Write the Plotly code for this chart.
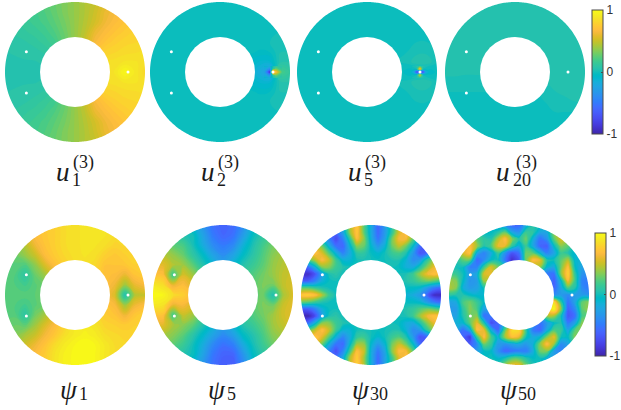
import numpy as np
import plotly.graph_objects as go

WIDTH, HEIGHT = 621, 410

# Sampled field values, percent of full scale. Rows run top to bottom, columns left to right.
GRID = [-1 + i / 7 for i in range(15)]
FINE_GRID = [-1 + i / 10 for i in range(21)]

U1 = [
    [14, 16, 18, 20, 24, 28, 33, 38, 44, 49, 56, 62, 66, 70, 72],
    [12, 14, 16, 18, 22, 27, 33, 38, 44, 51, 60, 65, 69, 72, 75],
    [10, 12, 14, 17, 20, 25, 31, 38, 45, 53, 62, 68, 72, 76, 78],
    [9, 10, 12, 14, 17, 22, 29, 38, 47, 60, 67, 72, 76, 79, 80],
    [8, 8, 9, 11, 14, 18, 27, 38, 51, 65, 72, 77, 80, 81, 82],
    [6, 7, 7, 8, 10, 14, 22, 38, 60, 72, 79, 81, 83, 84, 85],
    [5, 5, 6, 6, 7, 8, 14, 38, 72, 81, 84, 86, 88, 88, 86],
    [5, 5, 5, 5, 5, 5, 5, 5, 80, 82, 84, 88, 98, 90, 82],
    [5, 5, 6, 6, 7, 8, 14, 38, 72, 81, 84, 86, 88, 88, 86],
    [6, 7, 7, 8, 10, 14, 22, 38, 60, 72, 79, 81, 83, 84, 85],
    [8, 8, 9, 11, 14, 18, 27, 38, 51, 65, 72, 77, 80, 81, 82],
    [9, 10, 12, 14, 17, 22, 29, 38, 47, 60, 67, 72, 76, 79, 80],
    [10, 12, 14, 17, 20, 25, 31, 38, 45, 53, 62, 68, 72, 76, 78],
    [12, 14, 16, 18, 22, 27, 33, 38, 44, 51, 60, 65, 69, 72, 75],
    [14, 16, 18, 20, 24, 28, 33, 38, 44, 49, 56, 62, 66, 70, 72],
]
U2 = [
    [0] * 15, [0] * 15, [0] * 15, [0] * 15,
    [0, 0, 0, 0, 0, 0, 0, 0, 0, 0, 0, 0, 0, 2, 2],
    [0, 0, 0, 0, 0, 0, 0, 0, 0, 0, -2, -4, -3, 3, 3],
    [0, 0, 0, 0, 0, 0, 0, 0, 0, 0, -6, -10, -10, 5, 6],
    [0, 0, 0, 0, 0, 0, 0, 0, 0, 0, -8, -18, -30, 20, 12],
    [0, 0, 0, 0, 0, 0, 0, 0, 0, 0, -6, -10, -10, 5, 6],
    [0, 0, 0, 0, 0, 0, 0, 0, 0, 0, -2, -4, -3, 3, 3],
    [0, 0, 0, 0, 0, 0, 0, 0, 0, 0, 0, 0, 0, 2, 2],
    [0] * 15, [0] * 15, [0] * 15, [0] * 15,
]
U5 = [
    [0] * 15, [0] * 15, [0] * 15, [0] * 15, [0] * 15,
    [0, 0, 0, 0, 0, 0, 0, 0, 0, 0, 0, 0, 2, 2, 0],
    [0, 0, 0, 0, 0, 0, 0, 0, 0, 0, 0, 1, 6, 6, 0],
    [0, 0, 0, 0, 0, 0, 0, 0, 0, 0, 0, -5, -8, -8, -2],
    [0, 0, 0, 0, 0, 0, 0, 0, 0, 0, 0, 1, 6, 6, 0],
    [0, 0, 0, 0, 0, 0, 0, 0, 0, 0, 0, 0, 2, 2, 0],
    [0] * 15, [0] * 15, [0] * 15, [0] * 15, [0] * 15,
]
U20 = [
    [5] * 15, [5] * 15, [5] * 15, [5] * 15, [5] * 15, [5] * 15, [5] * 15,
    [4, 4, 4, 4, 4, 4, 4, 4, 4, 4, 4, 4, 4, 5, 5],
    [2, 2, 1, 1, 1, 1, 1, 1, 1, 1, 3, 4, 5, 5, 5],
    [0, 0, 0, 0, 0, 0, 0, 0, 0, 0, 1, 3, 4, 5, 5],
    [0, 0, 0, 0, 0, 0, 0, 0, 0, 0, 0, 1, 2, 3, 3],
    [0, 0, 0, 0, 0, 0, 0, 0, 0, 0, 0, 0, 0, 0, 0],
    [0] * 15, [0] * 15, [0] * 15,
]
PSI1 = [
    [30, 45, 60, 70, 74, 78, 84, 87, 88, 89, 88, 85, 82, 80, 78],
    [28, 40, 55, 68, 74, 78, 84, 87, 88, 89, 88, 84, 82, 80, 78],
    [28, 33, 45, 62, 72, 78, 84, 87, 88, 88, 85, 80, 82, 80, 78],
    [26, 28, 38, 50, 68, 76, 82, 86, 88, 86, 78, 74, 78, 80, 78],
    [24, 24, 22, 36, 55, 70, 78, 84, 86, 82, 72, 72, 74, 78, 78],
    [22, 22, 10, 28, 40, 55, 70, 80, 82, 78, 70, 68, 60, 72, 76],
    [22, 22, 18, 24, 30, 40, 50, 60, 65, 68, 70, 62, 40, 60, 66],
    [22, 22, 24, 25, 30, 40, 50, 60, 62, 66, 68, 55, 4, 45, 50],
    [22, 22, 18, 24, 30, 40, 50, 60, 68, 70, 72, 66, 40, 62, 68],
    [24, 24, 10, 30, 42, 55, 70, 80, 85, 82, 76, 72, 62, 74, 78],
    [26, 28, 25, 40, 55, 68, 80, 90, 92, 88, 80, 78, 76, 78, 80],
    [28, 33, 42, 50, 64, 74, 86, 92, 95, 92, 85, 82, 80, 80, 80],
    [30, 40, 52, 62, 72, 84, 92, 97, 100, 97, 90, 84, 82, 80, 80],
    [32, 45, 60, 68, 76, 88, 95, 98, 100, 97, 90, 84, 82, 80, 80],
    [32, 45, 60, 68, 76, 88, 95, 98, 100, 97, 90, 84, 82, 80, 80],
]
PSI5 = [
    [15, 10, 5, -5, -15, -35, -55, -62, -58, -40, -10, 5, 15, 25, 35],
    [20, 22, 12, 5, 0, -25, -50, -60, -55, -30, -3, 10, 20, 28, 35],
    [28, 32, 25, 20, 2, -18, -40, -50, -42, -15, 3, 18, 30, 35, 40],
    [42, 45, 38, 28, 10, -5, -25, -38, -25, -5, 8, 22, 35, 42, 48],
    [55, 58, 45, 40, 25, 5, -10, -25, -10, 5, 15, 25, 38, 45, 50],
    [70, 70, 15, 55, 40, 20, 0, -10, 0, 15, 22, 30, 38, 48, 52],
    [90, 85, 60, 68, 55, 30, 10, 0, 5, 18, 25, 32, 30, 48, 55],
    [100, 97, 85, 78, 65, 40, 15, 0, 5, 18, 25, 30, 3, 42, 55],
    [90, 88, 60, 65, 55, 30, 10, 0, 5, 18, 25, 32, 30, 50, 58],
    [70, 72, 18, 50, 40, 20, 0, -10, 0, 15, 22, 30, 40, 52, 58],
    [55, 58, 42, 35, 25, 5, -10, -25, -10, 5, 15, 25, 40, 48, 55],
    [42, 42, 35, 25, 8, -8, -25, -40, -28, -5, 5, 20, 35, 42, 50],
    [28, 32, 25, 15, 0, -18, -42, -55, -48, -20, 0, 15, 28, 35, 42],
    [20, 22, 12, 5, -2, -25, -52, -62, -62, -35, -5, 8, 18, 28, 35],
    [15, 10, 5, -5, -15, -35, -55, -65, -65, -42, -12, 3, 15, 25, 35],
]
PSI30 = [
    [20, 5, -25, -55, -75, -60, -25, 40, 75, 25, -18, -60, -30, 10, 55, 70, 40, 0, -55, -80, -80],
    [40, 20, -25, -55, -75, -60, -25, 40, 75, 25, -18, -60, -30, 10, 55, 70, 40, 0, -55, -80, -80],
    [45, 40, 35, -10, -45, -75, -45, 10, 68, 35, -15, -52, -25, 30, 65, 65, 25, -20, -70, -85, -70],
    [65, 70, 55, 30, -15, -55, -60, -10, 35, 28, -8, -32, -12, 28, 48, 30, -5, -55, -85, -75, -45],
    [50, 65, 72, 55, 22, -15, -45, -20, 10, 10, -3, -10, 0, 15, 20, 5, -30, -70, -60, -25, 5],
    [-5, 20, 45, 68, 50, 15, -12, -12, 0, 2, 0, -2, 0, 3, 3, -12, -38, -30, 10, 38, 50],
    [-70, -55, -15, 35, 35, 15, 5, 0, 0, 0, 0, 0, 0, 0, -3, -15, -20, 5, 35, 60, 70],
    [-90, -92, -70, -25, 3, 8, 0, 0, 0, 0, 0, 0, 0, 0, 0, 3, 15, 40, 62, 70, 65],
    [-65, -65, -45, -15, -3, 0, 0, 0, 0, 0, 0, 0, 0, 0, 0, 5, 12, 22, 30, 25, 15],
    [25, 25, 15, 5, 0, 0, 0, 0, 0, 0, 0, 0, 0, 0, 0, -3, -5, -10, -30, -50, -60],
    [75, 78, 72, 45, 15, 0, 0, 0, 0, 0, 0, 0, 0, 0, 0, -12, -18, -30, -60, -92, -95],
    [30, 25, 15, 5, 0, 0, 0, 0, 0, 0, 0, 0, 0, 0, 0, -3, -5, -10, -30, -50, -60],
    [-65, -65, -45, -15, -3, 0, 0, 0, 0, 0, 0, 0, 0, 0, 0, 5, 12, 22, 30, 25, 15],
    [-95, -98, -75, -25, 3, 8, 0, 0, 0, 0, 0, 0, 0, 0, 0, 3, 15, 40, 62, 72, 70],
    [-75, -55, -15, 35, 35, 15, 5, 0, 0, 0, 0, 0, 0, 0, -3, -15, -20, 5, 35, 60, 72],
    [-5, 20, 48, 70, 50, 15, -12, -12, 0, 2, 0, -2, 0, 3, 3, -12, -38, -30, 10, 38, 50],
    [50, 68, 75, 58, 24, -15, -42, -18, 12, 15, 0, -10, 0, 15, 22, 5, -30, -70, -60, -25, 5],
    [65, 72, 60, 30, -15, -52, -58, -8, 40, 38, -8, -30, -10, 30, 50, 30, -5, -55, -85, -75, -45],
    [45, 40, 35, -10, -45, -72, -42, 15, 70, 50, -15, -50, -22, 35, 68, 65, 25, -20, -70, -85, -70],
    [40, 20, -25, -55, -72, -55, -20, 45, 78, 40, -15, -58, -25, 15, 58, 70, 40, 0, -55, -80, -80],
    [20, 5, -25, -55, -72, -55, -20, 45, 78, 45, -15, -58, -25, 15, 58, 70, 40, 0, -55, -80, -80],
]
PSI50 = [
    [-5, -5, 10, 20, 5, -5, -15, -25, -40, -60, -60, -20, 5, 0, -10, 10, 20, 20, 10, -5, -10],
    [-5, 5, 25, 35, 15, -5, -5, 5, 25, -25, -35, 15, 10, -20, -20, 35, 50, 30, 10, -5, -10],
    [0, 15, 45, 60, 25, 10, 5, 45, 70, 35, 5, 30, -15, -55, -35, 25, 55, 35, 10, -5, -10],
    [-10, 25, 55, 70, 40, 5, 20, 60, 60, 10, -15, 15, -20, -60, -65, -5, 35, 25, 0, -10, -15],
    [-10, 15, 55, 72, -20, -45, -20, 15, -35, -70, -55, 30, 25, -10, -45, -25, 15, 5, -10, -15, -20],
    [-5, 5, 25, 25, -60, -40, -5, 0, -50, -90, -70, 30, 70, 60, 5, 0, 25, 45, -10, -15, -25],
    [0, 0, 0, -45, -45, 15, 55, 30, 0, -50, -50, 0, 40, 40, -10, -20, 30, 70, -5, -25, -30],
    [15, 15, 0, -30, -20, 55, 60, 20, 0, 0, 0, 0, 0, -20, -50, -55, 35, 80, 10, -35, -40],
    [40, 35, -5, -35, -30, 40, 40, 10, 0, 0, 0, 0, 0, 0, -30, -65, -10, 65, 15, -45, -50],
    [45, 35, -15, -30, -25, 0, 0, 0, 0, 0, 0, 0, 0, 0, -30, -60, -25, 20, 5, -40, -50],
    [10, 5, 5, -5, -10, -10, 0, 0, 0, 0, 0, 0, 0, 0, 0, -40, -30, -40, -30, -30, -35],
    [-25, -20, 20, 30, 15, -5, 0, 0, 0, 0, 0, 0, 0, 0, 60, 85, 10, -55, -25, 25, 35],
    [-30, -30, 10, 35, 20, -25, -20, 0, 0, 0, 0, 0, 0, 0, 70, 100, 35, -65, -40, 25, 40],
    [-25, -25, 5, 30, 35, -55, -50, -20, 0, 0, 0, 0, 0, -20, 40, 40, 0, -70, -55, 20, 25],
    [-20, -15, -10, 25, 60, 5, -75, -60, -10, 0, 0, 0, -20, -55, -30, -5, 5, -50, -25, 35, 35],
    [-20, -20, -55, -20, 70, 60, -15, -60, 25, 85, 85, 10, -50, -60, -20, 20, 15, -25, 25, 35, 30],
    [-30, -50, -60, -85, 15, 70, 20, -15, 40, 70, 60, 0, -20, -10, 35, 60, 0, -5, 35, 25, 20],
    [-40, -50, -70, -65, -40, 30, 15, -30, -35, -25, -20, -30, -15, 35, 70, 40, -40, -25, 15, 20, 20],
    [-40, -50, -60, -50, -30, -5, -5, -35, -60, -55, -50, -50, -20, 30, 35, -30, -45, -30, -5, 10, 10],
    [-20, -30, -40, -30, -10, -5, 0, -10, 0, 20, 20, 5, -5, 0, -15, -25, -30, -20, -10, 0, 0],
    [-20, -30, -40, -30, -10, -5, 5, 10, 40, 60, 60, 30, 5, 0, -10, -20, -20, -20, -10, 0, 0],
]

# Close-up values around the third interior point
DETAIL_X = [0.63, 0.67, 0.71, 0.757, 0.80, 0.84, 0.886]
DETAIL_Y = [0.086, 0.043, 0.0, -0.043, -0.086]
U2_DETAIL = [
    [-10, -10, -14, 0, 8, 7, 6],
    [-16, -25, -40, 10, 30, 20, 12],
    [-22, -50, -95, 100, 70, 45, 20],
    [-16, -25, -40, 10, 30, 20, 12],
    [-10, -10, -14, 0, 8, 7, 6],
]
U5_DETAIL = [
    [0, 2, 6, 12, 6, 2, 0],
    [-2, -2, 0, 70, 0, -2, -2],
    [-8, -20, -80, -90, -80, -20, -8],
    [-2, -2, 0, 50, 0, -2, -2],
    [0, 2, 5, 10, 5, 2, 0],
]
COLORBAR_RANGE = [[-1, 1]]

POINT_X = [-0.695, -0.695, 0.757]
POINT_Y = [0.29, -0.30, 0.0]

PANEL_FIELDS = [U1, U2, U5, U20, PSI1, PSI5, PSI30, PSI50]
PANEL_DETAILS = [None, U2_DETAIL, U5_DETAIL, None, None, None, None, None]
CENTER_X = [75, 220, 367, 515, 75, 223, 371, 519]
CENTER_Y = [72, 72, 72, 72, 295, 295, 295, 295]
RADIUS = 70
HOLE = 0.5

SYMBOLS = ["u", "u", "u", "u", "ψ", "ψ", "ψ", "ψ"]
SUBSCRIPTS = ["1", "2", "5", "20", "1", "5", "30", "50"]
SUPERSCRIPTS = ["(3)", "(3)", "(3)", "(3)", "", "", "", ""]

PARULA = [
    (0.2422, 0.1504, 0.6603), (0.2504, 0.1650, 0.7076), (0.2578, 0.1818, 0.7511), (0.2647, 0.1978, 0.7952),
    (0.2706, 0.2147, 0.8364), (0.2751, 0.2342, 0.8710), (0.2783, 0.2559, 0.8991), (0.2803, 0.2782, 0.9221),
    (0.2813, 0.3006, 0.9414), (0.2810, 0.3228, 0.9579), (0.2795, 0.3447, 0.9717), (0.2760, 0.3667, 0.9829),
    (0.2699, 0.3892, 0.9906), (0.2602, 0.4123, 0.9952), (0.2440, 0.4358, 0.9988), (0.2206, 0.4603, 0.9973),
    (0.1963, 0.4847, 0.9892), (0.1834, 0.5074, 0.9798), (0.1786, 0.5289, 0.9682), (0.1764, 0.5499, 0.9520),
    (0.1687, 0.5703, 0.9359), (0.1540, 0.5902, 0.9218), (0.1460, 0.6091, 0.9079), (0.1380, 0.6276, 0.8973),
    (0.1248, 0.6459, 0.8883), (0.1113, 0.6635, 0.8763), (0.0952, 0.6798, 0.8598), (0.0689, 0.6948, 0.8394),
    (0.0297, 0.7082, 0.8163), (0.0036, 0.7203, 0.7917), (0.0067, 0.7312, 0.7660), (0.0433, 0.7411, 0.7394),
    (0.0964, 0.7500, 0.7120), (0.1408, 0.7584, 0.6842), (0.1717, 0.7670, 0.6554), (0.1938, 0.7758, 0.6251),
    (0.2161, 0.7843, 0.5923), (0.2470, 0.7918, 0.5567), (0.2906, 0.7973, 0.5188), (0.3406, 0.8008, 0.4789),
    (0.3909, 0.8029, 0.4354), (0.4456, 0.8024, 0.3909), (0.5044, 0.7993, 0.3480), (0.5616, 0.7942, 0.3045),
    (0.6174, 0.7876, 0.2612), (0.6720, 0.7793, 0.2227), (0.7242, 0.7698, 0.1910), (0.7738, 0.7598, 0.1646),
    (0.8203, 0.7498, 0.1535), (0.8634, 0.7406, 0.1596), (0.9035, 0.7330, 0.1774), (0.9393, 0.7288, 0.2100),
    (0.9728, 0.7298, 0.2394), (0.9956, 0.7434, 0.2371), (0.9970, 0.7659, 0.2199), (0.9952, 0.7893, 0.2028),
    (0.9892, 0.8136, 0.1885), (0.9786, 0.8386, 0.1766), (0.9676, 0.8639, 0.1643), (0.9610, 0.8890, 0.1537),
    (0.9597, 0.9135, 0.1423), (0.9628, 0.9373, 0.1265), (0.9691, 0.9606, 0.1064), (0.9769, 0.9839, 0.0805),
]
COLORSCALE = [
    [i / (len(PARULA) - 1), "rgb(%d,%d,%d)" % tuple(round(c * 255) for c in rgb)]
    for i, rgb in enumerate(PARULA)
]

fig = go.Figure()
PAD = 1.02
layout = {}
shapes = []
annotations = []


def paper_x(px):
    return px / WIDTH


def paper_y(py):
    return 1 - py / HEIGHT


def text(px, py, s, size, italic=False):
    annotations.append(dict(
        x=paper_x(px), y=paper_y(py), xref="paper", yref="paper",
        text=f"<i>{s}</i>" if italic else s, showarrow=False,
        xanchor="center", yanchor="middle",
        font=dict(family="Liberation Serif", size=size, color="#1a1a1a"),
    ))


def colorbar(left, top, bottom):
    return dict(
        x=paper_x(left), xanchor="left", xpad=0, ypad=0,
        y=paper_y(top), yanchor="top", len=(bottom - top) / HEIGHT, lenmode="fraction",
        thickness=11, thicknessmode="pixels",
        outlinecolor="#4a4a4a", outlinewidth=1,
        tickmode="array", tickvals=[-1, 0, 1], ticktext=["-1", "0", "1"],
        ticks="inside", ticklen=2, tickcolor="#4a4a4a", tickwidth=1,
        tickfont=dict(family="Liberation Sans", size=12, color="#333333"),
    )


COLORBARS = {0: colorbar(592, 10, 134), 4: colorbar(595, 233, 356)}
SCALE = dict(colorscale=COLORSCALE, zauto=False, zmin=-1, zmax=1)
LEVELS = dict(start=-1, end=1, size=0.03125, coloring="fill", showlines=False)

theta = np.linspace(0, 2 * np.pi, 361)[:-1]
circle = "M" + " L".join(f"{np.cos(t):.5f},{np.sin(t):.5f}" for t in theta) + " Z"
outer = "M-1.2,-1.2 L1.2,-1.2 L1.2,1.2 L-1.2,1.2 Z "

for k, (field, detail) in enumerate(zip(PANEL_FIELDS, PANEL_DETAILS)):
    n = k + 1
    suffix = "" if n == 1 else str(n)
    cx, cy = CENTER_X[k], CENTER_Y[k]
    half = RADIUS * PAD
    layout[f"xaxis{suffix}"] = dict(
        domain=[paper_x(cx - half), paper_x(cx + half)], range=[-PAD, PAD],
        visible=False, anchor=f"y{suffix}", fixedrange=True,
    )
    layout[f"yaxis{suffix}"] = dict(
        domain=[paper_y(cy + half), paper_y(cy - half)], range=[-PAD, PAD],
        visible=False, anchor=f"x{suffix}", fixedrange=True,
    )
    z = np.array(field) / 100
    grid = FINE_GRID if len(field) == len(FINE_GRID) else GRID
    axes = dict(xaxis=f"x{suffix}", yaxis=f"y{suffix}", hoverinfo="skip")
    if k in COLORBARS:
        # colour bar carrier, sits behind the white centre of the ring
        fig.add_trace(go.Heatmap(
            x=[-0.1, 0.1], y=[0], z=COLORBAR_RANGE, showscale=True, colorbar=COLORBARS[k], **SCALE, **axes,
        ))
    fig.add_trace(go.Contour(
        x=grid, y=grid[::-1], z=z, showscale=False, **SCALE,
        autocontour=False, contours=LEVELS, line=dict(width=0, smoothing=1.3), **axes,
    ))
    if detail is not None:
        fig.add_trace(go.Contour(
            x=DETAIL_X, y=DETAIL_Y, z=np.array(detail) / 100, showscale=False, **SCALE,
            autocontour=False, contours=LEVELS, line=dict(width=0, smoothing=1.0), **axes,
        ))
    fig.add_trace(go.Scatter(
        x=POINT_X, y=POINT_Y, mode="markers",
        marker=dict(color="white", size=3, line=dict(width=0)), **axes,
    ))
    shapes.append(dict(
        type="path", xref=f"x{suffix}", yref=f"y{suffix}", path=outer + circle,
        fillcolor="white", line=dict(width=0), layer="above",
    ))
    shapes.append(dict(
        type="circle", xref=f"x{suffix}", yref=f"y{suffix}",
        x0=-HOLE, x1=HOLE, y0=-HOLE, y1=HOLE,
        fillcolor="white", line=dict(width=0), layer="above",
    ))

    if k < 4:
        sub_dx = 7 if len(SUBSCRIPTS[k]) > 1 else 1
        text(cx - 12, 172, SYMBOLS[k], 27, italic=True)
        text(cx + (11 if len(SUBSCRIPTS[k]) > 1 else 8), 162, SUPERSCRIPTS[k], 18)
        text(cx + sub_dx, 180, SUBSCRIPTS[k], 18)
    else:
        wide = len(SUBSCRIPTS[k]) > 1
        text(cx - (10 if wide else 6), 390, SYMBOLS[k], 27, italic=True)
        text(cx + 8, 394, SUBSCRIPTS[k], 18)


fig.update_layout(
    width=WIDTH, height=HEIGHT, margin=dict(l=0, r=0, t=0, b=0, autoexpand=False),
    paper_bgcolor="white", plot_bgcolor="white", showlegend=False,
    shapes=shapes, annotations=annotations, **layout,
)

fig.write_html(
    "out.html",
    config={"displayModeBar": False},
    post_script="document.body.style.margin='0';document.body.style.overflow='hidden';",
)
